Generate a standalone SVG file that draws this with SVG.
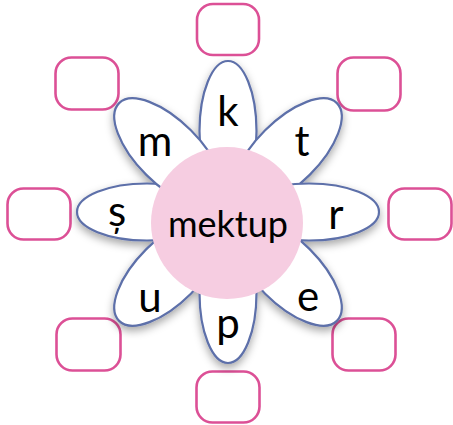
<svg xmlns="http://www.w3.org/2000/svg" width="453" height="425" viewBox="0 0 453 425">
<style>
.box{fill:#ffffff;stroke:#dc5096;stroke-width:2.6}
.petal{fill:#ffffff;stroke:#5d6fa9;stroke-width:2.2}
.lt{font-family:Lato,"Noto Sans",sans-serif;font-size:42px;fill:#000;text-anchor:middle}
.ctr{font-family:Lato,"Noto Sans",sans-serif;font-size:36px;fill:#000;text-anchor:middle}
</style>
<defs>
<filter id="sh" x="-30%" y="-30%" width="160%" height="160%">
<feDropShadow dx="0" dy="4" stdDeviation="4" flood-color="#000" flood-opacity="0.35"/>
</filter>
</defs>
<rect width="453" height="425" fill="#ffffff"/>
<g id="boxes">
<g id="box-top"><rect class="box" x="197" y="4" width="62" height="51" rx="16"/></g>
<g id="box-top-left"><rect class="box" x="55.5" y="57.5" width="63" height="52" rx="16"/></g>
<g id="box-top-right"><rect class="box" x="337.5" y="57.5" width="63" height="53" rx="16"/></g>
<g id="box-left"><rect class="box" x="7.5" y="188.5" width="63" height="51" rx="16"/></g>
<g id="box-right"><rect class="box" x="388.5" y="188.5" width="63" height="51" rx="16"/></g>
<g id="box-bottom-left"><rect class="box" x="56.5" y="318.5" width="64" height="52" rx="16"/></g>
<g id="box-bottom-right"><rect class="box" x="332.5" y="318.5" width="63" height="52" rx="16"/></g>
<g id="box-bottom"><rect class="box" x="196.5" y="371.5" width="63" height="51" rx="16"/></g>
</g>
<g id="connectors"/>
<g id="petals" filter="url(#sh)">
<g id="petal-k"><ellipse class="petal" cx="228" cy="131" rx="28.5" ry="70"/></g>
<g id="petal-t"><ellipse class="petal" cx="228" cy="128" rx="31.5" ry="70" transform="rotate(45 228 212)"/></g>
<g id="petal-r"><ellipse class="petal" cx="228" cy="131" rx="28.5" ry="70" transform="rotate(90 228 212)"/></g>
<g id="petal-e"><ellipse class="petal" cx="228" cy="128" rx="31.5" ry="70" transform="rotate(135 228 212)"/></g>
<g id="petal-p"><ellipse class="petal" cx="228" cy="131" rx="28.5" ry="70" transform="rotate(180 228 212)"/></g>
<g id="petal-u"><ellipse class="petal" cx="228" cy="128" rx="31.5" ry="70" transform="rotate(225 228 212)"/></g>
<g id="petal-s"><ellipse class="petal" cx="228" cy="131" rx="28.5" ry="70" transform="rotate(270 228 212)"/></g>
<g id="petal-m"><ellipse class="petal" cx="228" cy="128" rx="31.5" ry="70" transform="rotate(315 228 212)"/></g>
</g>
<g id="center">
<circle cx="227" cy="223" r="76" fill="#f6cde1"/>
<text class="ctr" x="228" y="237">mektup</text>
</g>
<g id="letters">
<text class="lt" x="228" y="126">k</text>
<text class="lt" x="302" y="156">t</text>
<text class="lt" x="336" y="229">r</text>
<text class="lt" x="308" y="311">e</text>
<text class="lt" x="228" y="338">p</text>
<text class="lt" x="150" y="312">u</text>
<text class="lt" x="117" y="226">ș</text>
<text class="lt" x="155" y="156">m</text>
</g>
</svg>
